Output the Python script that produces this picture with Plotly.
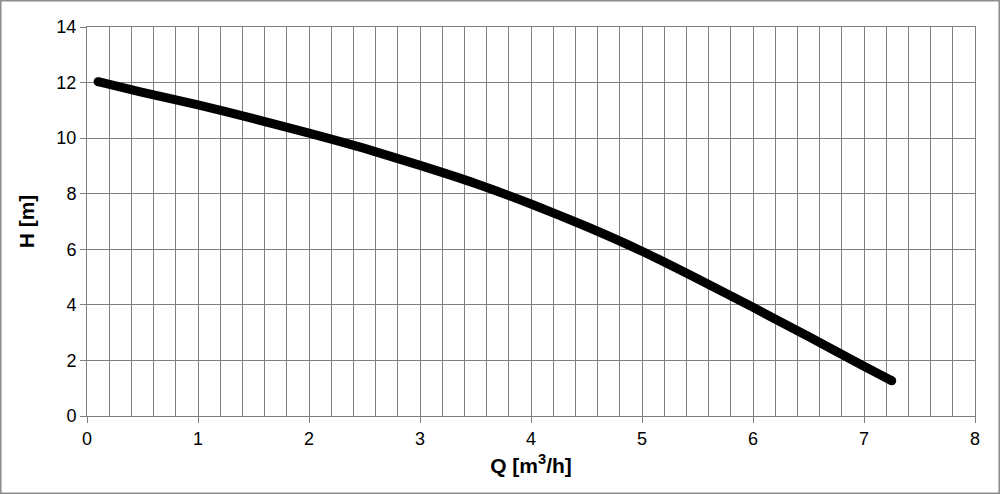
import plotly.graph_objects as go

# Pump curve data (Q in m3/h, H in m)
q_values = [0.1, 0.5, 1.0, 1.5, 2.0, 2.5, 3.0, 3.5, 4.0, 4.5, 5.0, 5.5, 6.0, 6.5, 7.0, 7.25]
h_values = [12.03, 11.65, 11.2, 10.7, 10.18, 9.63, 9.02, 8.37, 7.63, 6.82, 5.93, 4.94, 3.91, 2.86, 1.79, 1.27]

x_title = "Q [m<sup>3</sup>/h]"
y_title = "H [m]"

W, H = 1000, 494
L, R, T, B = 87, 25, 27, 78
pw = W - L - R
ph = H - T - B

fig = go.Figure()
fig.add_trace(go.Scatter(
    x=q_values, y=h_values, mode="lines",
    line=dict(color="black", width=9, shape="spline", smoothing=0.5),
    hoverinfo="skip", showlegend=False,
))
# round line caps at both ends of the curve
fig.add_trace(go.Scatter(
    x=[q_values[0], q_values[-1]], y=[h_values[0], h_values[-1]], mode="markers",
    marker=dict(color="black", size=9, line=dict(width=0)),
    hoverinfo="skip", showlegend=False,
))

grid_color = "#7f7f7f"
font_family = "Liberation Sans, Arial, Helvetica, sans-serif"

fig.update_layout(
    width=W, height=H,
    margin=dict(l=L, r=R, t=T, b=B, pad=0),
    paper_bgcolor="white", plot_bgcolor="white",
    font=dict(family=font_family, color="black", size=18),
    xaxis=dict(
        range=[0, 8], dtick=1, tick0=0,
        showgrid=True, gridcolor=grid_color, gridwidth=1,
        minor=dict(dtick=0.2, showgrid=True, gridcolor=grid_color, gridwidth=1),
        ticks="outside", ticklen=6, tickcolor=grid_color,
        showline=True, linecolor=grid_color, linewidth=1, mirror=True,
        zeroline=False,
        tickfont=dict(size=18),
        title=dict(text=x_title, font=dict(size=21, weight="bold"), standoff=10),
    ),
    yaxis=dict(
        range=[0, 14], dtick=2, tick0=0,
        showgrid=True, gridcolor=grid_color, gridwidth=1,
        ticks="outside", ticklen=6, tickcolor=grid_color,
        showline=True, linecolor=grid_color, linewidth=1, mirror=True,
        zeroline=False,
        tickfont=dict(size=18),
        title=dict(text=y_title, font=dict(size=21, weight="bold"), standoff=16),
    ),
)

# outer frame around the whole image
fig.add_shape(
    type="rect", xref="paper", yref="paper",
    x0=(0.75 - L) / pw, x1=(W - 0.75 - L) / pw,
    y0=-(B - 0.75) / ph, y1=(ph + T - 0.75) / ph,
    line=dict(color="#8c8c8c", width=1.5), fillcolor="rgba(0,0,0,0)",
    layer="below",
)

fig.write_html(
    "out.html",
    config={"displayModeBar": False, "staticPlot": True},
    post_script="document.body.style.margin='0';document.body.style.padding='0';document.body.style.overflow='hidden';",
)
